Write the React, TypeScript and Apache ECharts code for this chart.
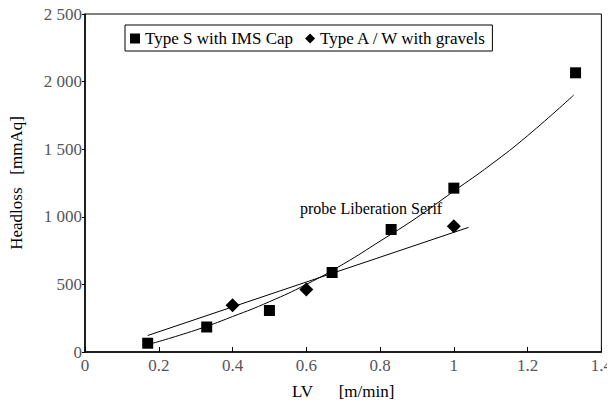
import React, { useEffect, useRef } from "react";
import * as echarts from "echarts";

const typeSPoints: [number, number][] = [
  [0.17, 65], [0.33, 185], [0.5, 307], [0.67, 588], [0.83, 906], [1.0, 1212], [1.33, 2065],
];
const typeAWPoints: [number, number][] = [
  [0.4, 345], [0.6, 463], [1.0, 930],
];
const typeSFit: [number, number][] = [
  [0.18, 62], [0.3, 162], [0.4, 262], [0.5, 372], [0.6, 500], [0.7, 650], [0.8, 820],
  [0.9, 995], [1.0, 1190], [1.1, 1385], [1.2, 1600], [1.325, 1900],
];
const typeAWFit: [number, number][] = [
  [0.17, 122], [1.04, 922],
];
const yTickLabels: Record<number, string> = {
  0: "0", 500: "500", 1000: "1 000", 1500: "1 500", 2000: "2 000", 2500: "2 500",
};
const xTickLabels: Record<string, string> = {
  "0": "0", "0.2": "0.2", "0.4": "0.4", "0.6": "0.6", "0.8": "0.8", "1": "1", "1.2": "1.2", "1.4": "1.4",
};
const seriesNames = ["Type S with IMS Cap", "Type A / W with gravels"];

const FONT = "Liberation Serif";
const GAP = "\u00a0\u00a0\u00a0";

export default function App() {
  const ref = useRef<HTMLDivElement>(null);
  useEffect(() => {
    if (!ref.current) return;
    const chart = echarts.init(ref.current, undefined, { renderer: "svg" });
    chart.setOption({
      animation: false,
      grid: {
        left: 82, right: 10, top: 14, bottom: 58,
        show: true, borderColor: "#000", borderWidth: 1,
      },
      legend: {
        data: [
          { name: seriesNames[0], icon: "rect" },
          { name: seriesNames[1], icon: "diamond" },
        ],
        left: 125, top: 25,
        itemWidth: 10, itemHeight: 10, itemGap: 12,
        padding: [5, 5, 4, 5],
        borderColor: "#000", borderWidth: 1,
        textStyle: { fontFamily: FONT, fontSize: 17, color: "#000" },
      },
      graphic: [{ type: "text", left: 300, top: 200, style: { text: "probe Liberation Serif", fontFamily: FONT, fontSize: 16, fill: "#000" } }],
      xAxis: {
        type: "value", min: 0, max: 1.4, interval: 0.2,
        name: "LV" + GAP + GAP + "[m/min]", nameLocation: "middle", nameGap: 31,
        nameTextStyle: { fontFamily: FONT, fontSize: 17 },
        axisLine: { show: true, onZero: false, lineStyle: { color: "#000", width: 1.5 } },
        axisTick: { show: true, inside: true, length: 5, lineStyle: { color: "#000" } },
        axisLabel: {
          fontFamily: FONT, fontSize: 17, margin: 5,
          formatter: (v: number) => xTickLabels[String(Math.round(v * 10) / 10)] ?? String(v),
        },
        splitLine: { show: false },
      },
      yAxis: {
        type: "value", min: 0, max: 2500, interval: 500,
        name: "Headloss" + GAP + "[mmAq]", nameLocation: "middle", nameGap: 60,
        nameTextStyle: { fontFamily: FONT, fontSize: 17 },
        axisLine: { show: true, lineStyle: { color: "#000", width: 1.5 } },
        axisTick: { show: true, inside: false, length: 3, lineStyle: { color: "#000" } },
        axisLabel: {
          fontFamily: FONT, fontSize: 17, margin: 3,
          formatter: (v: number) => yTickLabels[v] ?? String(v),
        },
        splitLine: { show: false },
      },
      series: [
        {
          name: seriesNames[0], type: "scatter", data: typeSPoints,
          symbol: "rect", symbolSize: 11, itemStyle: { color: "#000", opacity: 1 }, z: 5,
        },
        {
          name: seriesNames[1], type: "scatter", data: typeAWPoints,
          symbol: "diamond", symbolSize: 14, itemStyle: { color: "#000", opacity: 1 }, z: 5,
        },
        {
          name: "fitS", type: "line", data: typeSFit, smooth: true, showSymbol: false,
          lineStyle: { color: "#000", width: 1 }, silent: true,
        },
        {
          name: "fitAW", type: "line", data: typeAWFit, showSymbol: false,
          lineStyle: { color: "#000", width: 1 }, silent: true,
        },
      ],
    });
    return () => chart.dispose();
  }, []);
  return <div ref={ref} style={{ width: 615, height: 410, margin: -8 }} />;
}
